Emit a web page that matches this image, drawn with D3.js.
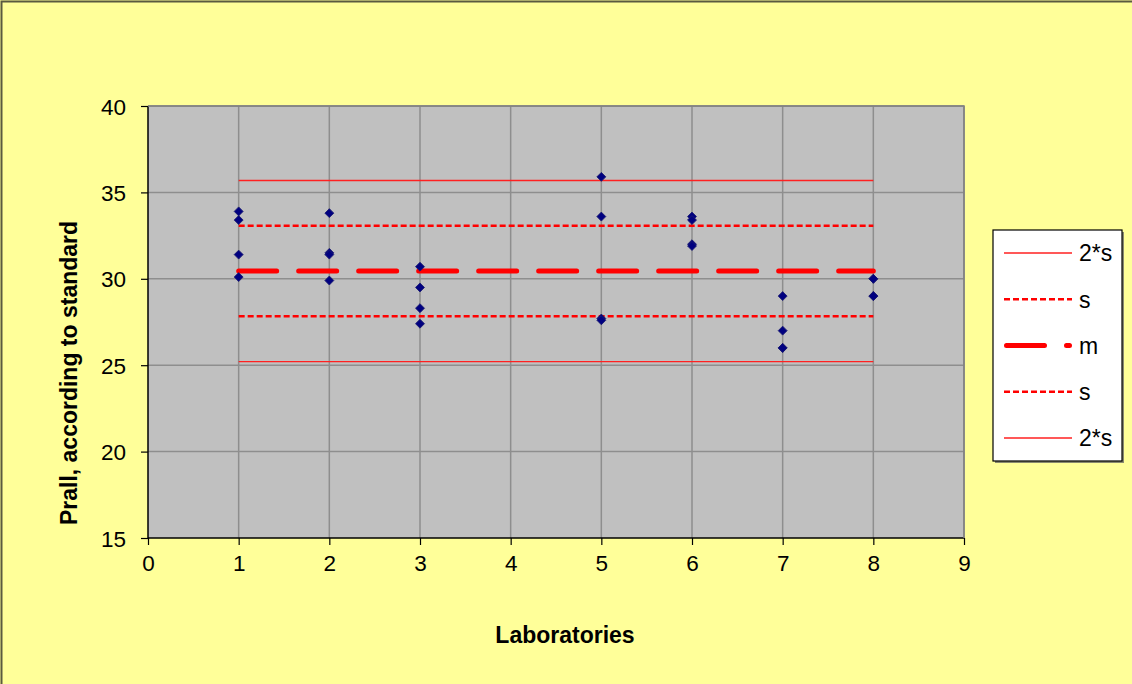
<!DOCTYPE html>
<html>
<head>
<meta charset="utf-8">
<script src="https://cdn.jsdelivr.net/npm/d3@7/dist/d3.min.js"></script>
<style>
  html, body { margin: 0; padding: 0; background: #FFFF99; }
  svg { display: block; font-family: Arial, "Liberation Sans", sans-serif; }
</style>
</head>
<body>
<svg id="chart" width="1132" height="684"></svg>
<script>
// Laboratory of each measurement and the measured Prall value
const laboratories = [1, 1, 1, 1, 2, 2, 2, 2, 3, 3, 3, 3, 5, 5, 5, 5, 6, 6, 6, 6, 7, 7, 7, 7, 8, 8, 8, 8];
const prallValues  = [33.9, 33.4, 31.4, 30.1, 33.8, 31.5, 31.4, 29.9, 30.7, 29.5, 28.3, 27.4,
                      35.9, 33.6, 27.7, 27.6, 33.6, 33.4, 32.0, 31.9, 29.0, 27.0, 26.0, 26.0,
                      30.0, 30.0, 29.0, 29.0];

// Overall mean and standard deviation
const meanValue = 30.45;
const stdDev = 2.62;

// Reference lines: label, multiple of s added to the mean, and style key
const limitLabels = ["2*s", "s", "m", "s", "2*s"];
const limitFactors = [2, 1, 0, -1, -2];
const limitStyles = ["twoS", "oneS", "mean", "oneS", "twoS"];
const limitRange = [1, 8];

const xTicks = [0, 1, 2, 3, 4, 5, 6, 7, 8, 9];
const yTicks = [15, 20, 25, 30, 35, 40];

const W = 1132, H = 684;
const plot = { left: 148, right: 964, top: 106, bottom: 538 };

const svg = d3.select("#chart");

const x = d3.scaleLinear().domain([0, 9]).range([plot.left, plot.right]);
const y = d3.scaleLinear().domain([15, 40]).range([plot.bottom, plot.top]);

const lineStyle = {
  twoS: { width: 1.3, dash: null, cap: "butt", color: "#ff2020" },
  oneS: { width: 2.4, dash: "6,3", cap: "butt", color: "#ff0000" },
  mean: { width: 5, dash: "38,22", cap: "round", color: "#ff0000" }
};

// Chart area background and frame
svg.append("rect").attr("x", 0).attr("y", 0).attr("width", W).attr("height", H).attr("fill", "#FFFF99");
svg.append("path")
  .attr("d", `M1.5,${H} L1.5,1.5 L${W},1.5`)
  .attr("fill", "none").attr("stroke", "#5a5a40").attr("stroke-width", 2);

// Plot area
svg.append("rect")
  .attr("x", plot.left).attr("y", plot.top)
  .attr("width", plot.right - plot.left).attr("height", plot.bottom - plot.top)
  .attr("fill", "#C0C0C0");

// Gridlines
const grid = svg.append("g").attr("stroke", "#8e8e8e").attr("stroke-width", 1.5);
grid.selectAll("line.gy").data(yTicks.filter(t => t > 15)).join("line")
  .attr("x1", plot.left).attr("x2", plot.right)
  .attr("y1", d => y(d)).attr("y2", d => y(d));
grid.selectAll("line.gx").data(xTicks.filter(t => t > 0)).join("line")
  .attr("y1", plot.top).attr("y2", plot.bottom)
  .attr("x1", d => x(d)).attr("x2", d => x(d));

// Axes
const yAxis = d3.axisLeft(y).tickValues(yTicks).tickSize(7).tickPadding(15);
const xAxis = d3.axisBottom(x).tickValues(xTicks).tickSize(7).tickPadding(10);

const gy = svg.append("g").attr("transform", `translate(${plot.left},0)`).call(yAxis);
const gx = svg.append("g").attr("transform", `translate(0,${plot.bottom})`).call(xAxis);
[gx, gy].forEach(g => {
  g.select(".domain").attr("stroke", "#000").attr("stroke-width", 1.5);
  g.selectAll(".tick line").attr("stroke", "#000").attr("stroke-width", 1.2);
  g.selectAll(".tick text").attr("fill", "#000")
    .attr("font-size", 22.5).attr("font-family", "Arial, 'Liberation Sans', sans-serif");
});
gy.select(".domain").attr("d", `M0,${plot.bottom}V${plot.top}`);
gx.select(".domain").attr("d", `M${plot.left},0H${plot.right}`);
gy.selectAll(".tick text").attr("dy", "0.36em");
gx.selectAll(".tick text").attr("dy", "0.72em");

// Reference lines (mean and s bands)
const limitData = limitFactors.map((f, i) => ({
  value: meanValue + f * stdDev, style: lineStyle[limitStyles[i]], label: limitLabels[i]
}));
const lineGen = d3.line().x(d => x(d[0])).y(d => y(d[1]));
svg.append("g").selectAll("path").data(limitData).join("path")
  .attr("d", d => lineGen(limitRange.map(lab => [lab, d.value])))
  .attr("fill", "none")
  .attr("stroke", d => d.style.color)
  .attr("stroke-width", d => d.style.width)
  .attr("stroke-dasharray", d => d.style.dash)
  .attr("stroke-linecap", d => d.style.cap);

// Measurements
const diamond = d3.symbol().type(d3.symbolSquare).size(40);
svg.append("g").selectAll("path").data(prallValues.map((v, i) => [laboratories[i], v])).join("path")
  .attr("d", diamond)
  .attr("transform", d => `translate(${x(d[0])},${y(d[1])}) rotate(45)`)
  .attr("fill", "#000080")
  .attr("stroke", "#1a1a70").attr("stroke-width", 0.8);

// Plot frame (top and right edges)
svg.append("path")
  .attr("d", `M${plot.left},${plot.top}H${plot.right}V${plot.bottom}`)
  .attr("fill", "none").attr("stroke", "#808080").attr("stroke-width", 1.5);

// Axis titles
svg.append("text")
  .attr("transform", "translate(77,373) rotate(-90)")
  .attr("text-anchor", "middle")
  .attr("font-size", 23).attr("font-weight", "bold").attr("fill", "#000")
  .text("Prall, according to standard");

svg.append("text")
  .attr("x", 565).attr("y", 643)
  .attr("text-anchor", "middle")
  .attr("font-size", 23).attr("font-weight", "bold").attr("fill", "#000")
  .text("Laboratories");

// Legend
const legend = { x: 993, y: 230, w: 129, h: 231 };
svg.append("rect")
  .attr("x", legend.x + 2).attr("y", legend.y + 2).attr("width", legend.w).attr("height", legend.h)
  .attr("fill", "#8a8a70");
svg.append("rect")
  .attr("x", legend.x).attr("y", legend.y).attr("width", legend.w).attr("height", legend.h)
  .attr("fill", "#fff").attr("stroke", "#000").attr("stroke-width", 1.2);

const legendY = d3.scalePoint().domain(d3.range(limitData.length)).range([253, 438]);
const items = svg.append("g").selectAll("g").data(limitData).join("g")
  .attr("transform", (d, i) => `translate(0,${legendY(i)})`);
items.append("line")
  .attr("x1", d => d.style.cap === "round" ? 1006.5 : 1004)
  .attr("x2", d => d.style.cap === "round" ? 1069.5 : 1072)
  .attr("stroke", d => d.style.color)
  .attr("stroke-width", d => d.style.width)
  .attr("stroke-dasharray", d => d.style.dash)
  .attr("stroke-linecap", d => d.style.cap);
items.append("text")
  .attr("x", 1079).attr("dy", "0.36em")
  .attr("font-size", 23).attr("fill", "#000")
  .text(d => d.label);
</script>
</body>
</html>
